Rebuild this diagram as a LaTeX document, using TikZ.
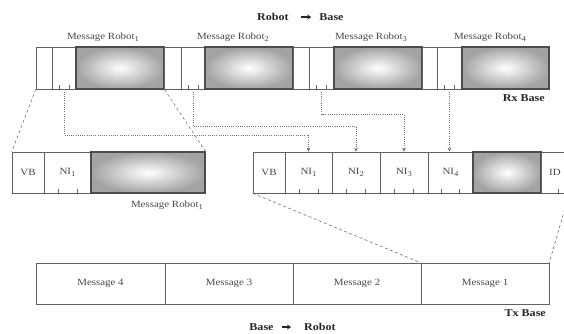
\documentclass[tikz,border=0pt]{standalone}
\usepackage{fontspec}
\setmainfont[FakeStretch=1.15]{Liberation Serif}
\usetikzlibrary{arrows.meta,calc}
\definecolor{framecol}{gray}{0.38}
\definecolor{labcol}{gray}{0.28}
\newcommand{\subidx}[1]{\raisebox{-0.5ex}{\fontsize{7.5}{8}\selectfont #1}}
\begin{document}
\begin{tikzpicture}[x=1pt,y=-1pt,
  seg/.style={draw=framecol, line width=0.6pt, inner sep=0pt, minimum height=42pt, font=\fontsize{9.5}{11}\selectfont, text=labcol},
  segm/.style={seg, minimum height=41pt},
  shadebox/.style={draw=black!70, line width=1.1pt, inner sep=0pt, inner color=white, outer color=black!36},
  lab/.style={font=\fontsize{9.5}{11}\selectfont, text=labcol, inner sep=1pt},
  ttl/.style={font=\fontsize{10.5}{12}\selectfont\bfseries, text=black!85, inner sep=1pt},
  tick/.style={draw=framecol, line width=0.5pt},
  dotconn/.style={draw=black!55, line width=0.6pt, dash pattern=on 1pt off 1.2pt, -{Stealth[length=4pt,width=4pt]}},
  dashconn/.style={draw=black!55, line width=0.6pt, dash pattern=on 3pt off 2.5pt},
  ttlarrow/.style={draw=black!85, line width=1.3pt, -{Stealth[length=4pt,width=5pt]}}
]
\useasboundingbox (0,0) rectangle (564,333);
\clip (0,0) rectangle (564,333);

% ---------- top bar (Rx Base) ----------
\node[seg, minimum width=16pt] (r1a) at (44,68) {};
\node[seg, minimum width=24pt] (r1b) at (64,68) {};
\node[seg, shadebox, minimum width=88pt, minimum height=42pt] (r1c) at (120,68) {};
\node[seg, minimum width=17pt] (r2a) at (172.5,68) {};
\node[seg, minimum width=24pt] (r2b) at (193,68) {};
\node[seg, shadebox, minimum width=88pt, minimum height=42pt] (r2c) at (249,68) {};
\node[seg, minimum width=16pt] (r3a) at (301,68) {};
\node[seg, minimum width=25pt] (r3b) at (321.5,68) {};
\node[seg, shadebox, minimum width=88pt, minimum height=42pt] (r3c) at (378,68) {};
\node[seg, minimum width=15pt] (r4a) at (429.5,68) {};
\node[seg, minimum width=25pt] (r4b) at (449.5,68) {};
\node[seg, shadebox, minimum width=87pt, minimum height=42pt] (r4c) at (505.5,68) {};

\node[lab] (lr1) at (103,37) {Message Robot\subidx{1}};
\node[lab] (lr2) at (233,37) {Message Robot\subidx{2}};
\node[lab] (lr3) at (371,37) {Message Robot\subidx{3}};
\node[lab] (lr4) at (490,37) {Message Robot\subidx{4}};

\node[ttl] (tr) at (273,17) {Robot};
\node[ttl] (tb) at (331.5,17) {Base};
\draw[ttlarrow, shorten <=11pt, shorten >=7pt] (tr.east) -- (tb.west);

\node[ttl, anchor=east] (rx) at (546,98) {Rx Base};

% ---------- middle left ----------
\node[segm, minimum width=32pt] (lvb) at (28,172.5) {VB};
\node[segm, minimum width=47pt] (lni) at (67.5,172.5) {NI\subidx{1}};
\node[segm, shadebox, minimum width=114pt, minimum height=41pt] (lsh) at (148,172.5) {};
\node[lab] (llab) at (167,205) {Message Robot\subidx{1}};

% ---------- middle right ----------
\node[segm, minimum width=32pt] (rvb) at (269,172.5) {VB};
\node[segm, minimum width=47pt] (rn1) at (308.5,172.5) {NI\subidx{1}};
\node[segm, minimum width=48pt] (rn2) at (356,172.5) {NI\subidx{2}};
\node[segm, minimum width=48pt] (rn3) at (404,172.5) {NI\subidx{3}};
\node[segm, minimum width=45pt] (rn4) at (450.5,172.5) {NI\subidx{4}};
\node[segm, shadebox, minimum width=68pt, minimum height=41pt] (rsh) at (507,172.5) {};
\node[segm, minimum width=28pt] (rid) at (555,172.5) {ID};

% ---------- bottom (Tx Base) ----------
\node[segm, minimum width=129pt] (m4) at (100.5,283.5) {Message 4};
\node[segm, minimum width=128pt] (m3) at (229,283.5) {Message 3};
\node[segm, minimum width=128pt] (m2) at (357,283.5) {Message 2};
\node[segm, minimum width=128pt] (m1) at (485,283.5) {Message 1};
\node[ttl, anchor=east] (tx) at (547,313) {Tx Base};
\node[ttl] (bb) at (261.5,327) {Base};
\node[ttl] (br) at (320,327) {Robot};
\draw[ttlarrow, shorten <=7pt, shorten >=12pt] (bb.east) -- (br.west);

% ---------- ticks ----------
\foreach \n in {r1b,r2b,r3b,r4b,lni,rn1,rn2,rn3,rn4}{
  \draw[tick] ($(\n.south west)!0.3!(\n.south east)$) -- ++(0,-4);
  \draw[tick] ($(\n.south west)!0.7!(\n.south east)$) -- ++(0,-4);
}
\draw[tick] ($(rid.south west)!0.6!(rid.south east)$) -- ++(0,-4);

% ---------- dotted connectors ----------
\coordinate (h1) at (0,135);
\coordinate (h2) at (0,126);
\coordinate (h3) at (0,114);
\draw[dotconn] (r1b.south) -- (r1b.south |- h1) -| (rn1.north);
\draw[dotconn] (r2b.south) -- (r2b.south |- h2) -| (rn2.north);
\draw[dotconn] (r3b.south) -- (r3b.south |- h3) -| (rn3.north);
\draw[dotconn] (r4b.south) -- (r4b.south |- rn4.north);

% ---------- dashed connectors ----------
\draw[dashconn] (r1a.south west) -- (lvb.north west);
\draw[dashconn] (r1c.south east) -- (lsh.north east);
\draw[dashconn] (rvb.south west) -- (m1.north west);
\draw[dashconn] (rid.south east) -- (m1.north east);
\end{tikzpicture}
\end{document}
